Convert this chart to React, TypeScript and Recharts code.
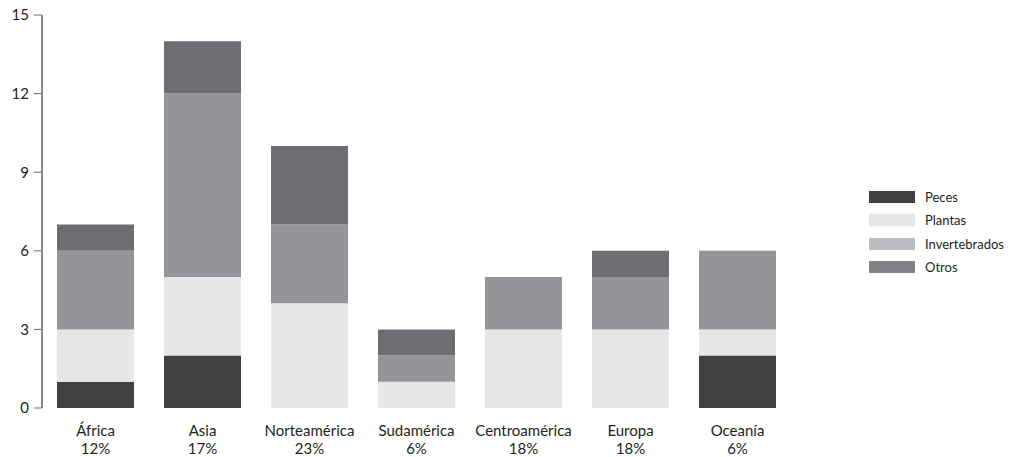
import { BarChart, Bar, XAxis, YAxis } from "recharts"

const categories = ["África", "Asia", "Norteamérica", "Sudamérica", "Centroamérica", "Europa", "Oceanía"]
const shares = ["12%", "17%", "23%", "6%", "18%", "18%", "6%"]
const peces = [1, 2, 0, 0, 0, 0, 2]
const plantas = [2, 3, 4, 1, 3, 3, 1]
const invertebrados = [3, 7, 3, 1, 2, 2, 3]
const otros = [1, 2, 3, 1, 0, 1, 0]
const yTicks = [0, 3, 6, 9, 12, 15]

const seriesNames = ["Peces", "Plantas", "Invertebrados", "Otros"]
const barColors = ["#414143", "#e6e7e8", "#939598", "#6d6e71"]
const legendColors = ["#414143", "#e6e7e8", "#bcbdc0", "#808285"]

const data = categories.map((name, i) => ({
    name,
    share: shares[i],
    Peces: peces[i],
    Plantas: plantas[i],
    Invertebrados: invertebrados[i],
    Otros: otros[i],
}))

const font = "Lato, 'Open Sans', sans-serif"

function CategoryTick(props: any) {
    const { x, y, payload, index } = props
    return (
        <g transform={`translate(${x},${y})`}>
            <text x={0} y={20} textAnchor="middle" fill="#231f20" fontSize={15} fontFamily={font}>
                {payload.value}
            </text>
            <text x={0} y={38} textAnchor="middle" fill="#231f20" fontSize={15} fontFamily={font}>
                {shares[index]}
            </text>
        </g>
    )
}

function LegendBox() {
    return (
        <div
            style={{
                position: "absolute",
                left: 869,
                top: 185,
                fontFamily: font,
                fontSize: 13,
                color: "#231f20",
            }}
        >
            {seriesNames.map((name, i) => (
                <div key={name} style={{ display: "flex", alignItems: "center", height: 23.5 }}>
                    <div style={{ width: 46, height: 12, background: legendColors[i], marginRight: 10 }} />
                    <span>{name}</span>
                </div>
            ))}
        </div>
    )
}

export default function App() {
    return (
        <div style={{ position: "absolute", left: 0, top: 0, width: 1009, height: 457, background: "#fff" }}>
            <BarChart
                width={1009}
                height={457}
                data={data}
                margin={{ top: 15, right: 218, left: 0, bottom: 0 }}
                barSize={77}
            >
                <XAxis
                    dataKey="name"
                    axisLine={false}
                    tickLine={false}
                    height={49}
                    interval={0}
                    tick={<CategoryTick />}
                />
                <YAxis
                    width={42}
                    domain={[0, 15]}
                    ticks={yTicks}
                    axisLine={{ stroke: "#3a3a3a", strokeWidth: 1.2 }}
                    tickLine={{ stroke: "#6d6e71" }}
                    tickSize={8}
                    tickMargin={5}
                    tick={{ fill: "#231f20", fontSize: 15, fontFamily: font }}
                />
                {seriesNames.map((name, i) => (
                    <Bar
                        key={name}
                        dataKey={name}
                        stackId="a"
                        fill={barColors[i]}
                        isAnimationActive={false}
                    />
                ))}
            </BarChart>
            <LegendBox />
        </div>
    )
}
